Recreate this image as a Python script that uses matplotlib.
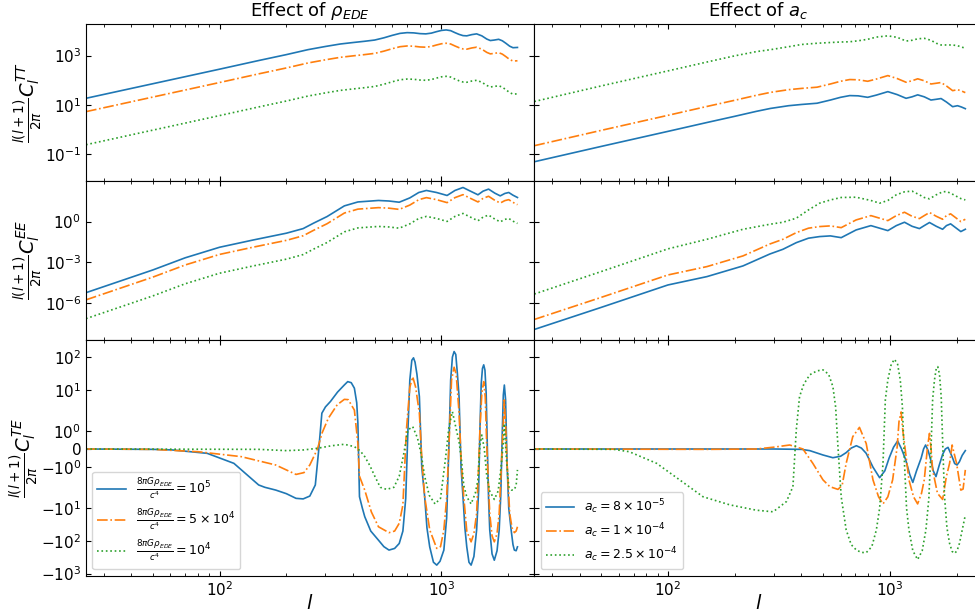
import numpy as np
import matplotlib
matplotlib.use("Agg")
import matplotlib.pyplot as plt
from matplotlib.ticker import NullLocator, FixedLocator

# ---------------- data ----------------
# TT, effect of rho_EDE  (log10 of l(l+1)C_l/2pi)
ell_tt_rho = [25, 50, 100, 150, 200, 250, 300, 350, 400, 450, 500, 550, 600, 650, 700, 750,
              800, 850, 900, 950, 1000, 1050, 1100, 1150, 1200, 1250, 1300, 1370, 1440, 1520,
              1600, 1660, 1730, 1810, 1880, 1950, 2030, 2100, 2200]
tt_rho_1e5 = [1.27, 1.86, 2.45, 2.80, 3.04, 3.24, 3.37, 3.47, 3.53, 3.58, 3.63, 3.72, 3.82, 3.90,
              3.93, 3.92, 3.89, 3.88, 3.91, 3.97, 4.02, 4.04, 4.01, 3.93, 3.86, 3.81, 3.80, 3.85,
              3.88, 3.80, 3.67, 3.61, 3.63, 3.66, 3.60, 3.50, 3.38, 3.32, 3.33]
tt_rho_5e4 = [0.73, 1.32, 1.91, 2.26, 2.50, 2.70, 2.83, 2.93, 2.99, 3.04, 3.09, 3.18, 3.28, 3.36,
              3.39, 3.38, 3.35, 3.34, 3.37, 3.43, 3.48, 3.50, 3.47, 3.39, 3.32, 3.27, 3.26, 3.31,
              3.34, 3.26, 3.13, 3.07, 3.09, 3.12, 3.06, 2.96, 2.84, 2.78, 2.79]
tt_rho_1e4 = [-0.61, -0.02, 0.57, 0.92, 1.16, 1.36, 1.49, 1.59, 1.65, 1.70, 1.75, 1.84, 1.94, 2.02,
              2.05, 2.04, 2.01, 2.00, 2.03, 2.09, 2.14, 2.16, 2.13, 2.05, 1.98, 1.93, 1.92, 1.97,
              2.00, 1.92, 1.79, 1.73, 1.75, 1.78, 1.72, 1.62, 1.50, 1.44, 1.45]

# TT, effect of a_c
ell_tt_ac = [25, 50, 100, 150, 200, 250, 290, 350, 400, 470, 540, 600, 660, 720, 795, 870, 980,
             1080, 1184, 1260, 1336, 1430, 1533, 1620, 1703, 1800, 1920, 2020, 2100, 2190]
tt_ac_8e5 = [-1.30, -0.68, -0.07, 0.29, 0.54, 0.74, 0.86, 0.97, 1.02, 1.07, 1.20, 1.31, 1.38, 1.37,
             1.31, 1.40, 1.54, 1.42, 1.27, 1.33, 1.41, 1.33, 1.20, 1.23, 1.26, 1.12, 0.93, 0.97,
             0.92, 0.85]
tt_ac_1e4 = [-0.65, -0.03, 0.58, 0.94, 1.19, 1.39, 1.51, 1.62, 1.67, 1.72, 1.85, 1.96, 2.03, 2.02,
             1.96, 2.05, 2.19, 2.07, 1.92, 1.98, 2.06, 1.98, 1.85, 1.88, 1.91, 1.77, 1.58, 1.62,
             1.57, 1.50]
tt_ac_25e4 = [1.14, 1.77, 2.38, 2.74, 2.99, 3.16, 3.24, 3.36, 3.45, 3.50, 3.53, 3.55, 3.56, 3.60,
              3.66, 3.75, 3.80, 3.74, 3.59, 3.62, 3.68, 3.70, 3.62, 3.50, 3.43, 3.43, 3.43, 3.40,
              3.35, 3.30]

# EE, effect of rho_EDE (log10)
ell_ee_rho = [25, 50, 70, 100, 142, 200, 238, 265, 305, 365, 420, 520, 580, 645, 720, 790, 855,
              950, 1060, 1150, 1250, 1350, 1460, 1540, 1630, 1740, 1840, 1930, 2010, 2100, 2200]
ee_rho_1e5 = [-5.26, -3.58, -2.68, -1.90, -1.36, -0.86, -0.52, -0.12, 0.37, 1.16, 1.45, 1.56, 1.52,
              1.43, 1.75, 2.15, 2.30, 2.15, 1.93, 2.30, 2.52, 2.25, 1.98, 2.25, 2.40, 2.10, 1.90,
              2.08, 2.15, 1.95, 1.78]
ee_rho_5e4 = [-5.79, -4.11, -3.21, -2.43, -1.89, -1.39, -1.05, -0.65, -0.16, 0.63, 0.92, 1.03, 0.99,
              0.90, 1.22, 1.62, 1.77, 1.62, 1.40, 1.77, 1.99, 1.72, 1.45, 1.72, 1.87, 1.57, 1.37,
              1.55, 1.62, 1.42, 1.25]
ee_rho_1e4 = [-7.18, -5.50, -4.60, -3.82, -3.28, -2.78, -2.44, -2.04, -1.55, -0.76, -0.47, -0.36,
              -0.40, -0.49, -0.17, 0.23, 0.38, 0.23, 0.01, 0.38, 0.60, 0.33, 0.06, 0.33, 0.48,
              0.18, -0.02, 0.16, 0.23, 0.03, -0.14]

# EE, effect of a_c (log10)
ell_ee_ac = [25, 50, 100, 150, 218, 288, 330, 379, 430, 483, 540, 604, 705, 822, 900, 980, 1070,
             1165, 1260, 1360, 1430, 1510, 1620, 1730, 1800, 1880, 1980, 2090, 2190]
ee_ac_8e5 = [-7.98, -6.35, -4.69, -4.07, -3.28, -2.40, -2.05, -1.56, -1.23, -1.11, -1.06, -1.19,
             -0.62, -0.30, -0.49, -0.67, -0.30, -0.05, -0.35, -0.52, -0.30, -0.07, -0.35, -0.57,
             -0.30, -0.17, -0.45, -0.74, -0.57]
ee_ac_1e4 = [-7.24, -5.61, -3.95, -3.33, -2.54, -1.66, -1.31, -0.82, -0.49, -0.37, -0.32, -0.45,
             0.12, 0.44, 0.25, 0.07, 0.44, 0.69, 0.39, 0.22, 0.44, 0.67, 0.39, 0.17, 0.44, 0.57,
             0.29, 0.00, 0.17]
ee_ac_25e4 = [-5.36, -3.70, -2.02, -1.31, -0.57, -0.20, -0.05, 0.25, 0.86, 1.36, 1.60, 1.78, 1.80,
              1.56, 1.36, 1.56, 1.98, 2.20, 2.25, 1.98, 1.78, 1.68, 1.98, 2.20, 2.22, 2.10, 1.90,
              1.70, 1.60]

# TE, effect of rho_EDE (signed values)
ell_te_rho_1e5 = [25, 50, 61, 88, 116, 150, 160, 179, 200, 221, 238, 255, 270, 280, 289, 300, 316,
                  340, 365, 378, 392, 405, 415, 420, 427, 440, 451, 480, 520, 550, 580, 615, 645,
                  670, 690, 706, 720, 735, 748, 760, 775, 795, 815, 840, 860, 885, 920, 952, 985,
                  1025, 1055, 1080, 1100, 1120, 1140, 1160, 1180, 1200, 1225, 1250, 1275, 1300,
                  1330, 1360, 1400, 1440, 1470, 1490, 1510, 1530, 1550, 1570, 1590, 1610, 1630,
                  1650, 1690, 1730, 1780, 1820, 1850, 1880, 1900, 1920, 1945, 1975, 2010, 2060,
                  2100, 2130, 2170, 2200]
te_rho_1e5 = [0, -0.02, -0.05, -0.24, -0.79, -1.98, -2.3, -2.79, -3.6, -5.0, -5.2, -4.26, -1.98, 0,
              1.97, 3.0, 4.4, 8.5, 14.1, 17.8, 16.5, 11.2, 4.0, 1.42, -4.45, -10, -18.2, -50, -95,
              -150, -191, -170, -120, -50, -5, 1.05, 20, 80, 95, 70, 30, 6.2, -1, -4.5, -40, -152,
              -450, -550, -420, -191, -20, 0.13, 20, 100, 148, 120, 30, 6.2, -1, -4.5, -40, -152,
              -450, -550, -300, -46, -3, 1.05, 15, 45, 58, 40, 8, 0, -5, -46, -250, -390, -200,
              -46, -4, 1.0, 7, 14, 5, -0.79, -10, -46, -130, -191, -200, -152]
ell_te_rho_5e4 = [25, 50, 80, 125, 179, 221, 240, 255, 276, 290, 309, 339, 365, 380, 405, 420, 427,
                  451, 483, 520, 580, 615, 645, 670, 695, 720, 742, 765, 795, 815, 840, 885, 952,
                  990, 1025, 1055, 1080, 1110, 1140, 1165, 1200, 1225, 1260, 1300, 1360, 1400,
                  1440, 1470, 1490, 1520, 1550, 1575, 1600, 1650, 1690, 1730, 1780, 1820, 1860,
                  1900, 1920, 1950, 1975, 2030, 2080, 2130, 2170, 2200]
te_rho_5e4 = [0, -0.02, -0.15, -0.42, -0.88, -1.40, -1.3, -0.88, 0, 0.9, 1.69, 3.5, 5.1, 5.0, 2.4,
              0.3, -1.5, -2.8, -13, -37, -56, -50, -29, -8, 1.05, 12, 25, 12, 1.96, -0.5, -4.5,
              -46, -170, -150, -46, -5, 0.13, 20, 49, 30, 2.0, -0.5, -4.5, -50, -107, -60, -14.6,
              -1, 1.05, 8, 17.8, 6, 0.13, -14.6, -70, -107, -60, -14.6, -1, 1.5, 4.9, 1, -0.79,
              -14.6, -40, -56, -50, -37]
ell_te_rho_1e4 = [25, 150, 200, 240, 276, 320, 365, 405, 430, 451, 475, 502, 530, 566, 610, 645,
                  675, 706, 742, 780, 810, 840, 880, 935, 990, 1045, 1080, 1120, 1160, 1200, 1230,
                  1260, 1300, 1360, 1420, 1460, 1490, 1520, 1560, 1600, 1650, 1730, 1800, 1860,
                  1900, 1920, 1960, 2010, 2070, 2130, 2170, 2200]
te_rho_1e4 = [0, -0.02, -0.09, -0.05, 0.04, 0.18, 0.26, 0.13, -0.1, -0.42, -0.9, -1.53, -2.3, -2.66,
              -2.3, -1.5, -0.3, 1.05, 1.23, 0.6, -0.3, -1.5, -4.0, -7.4, -5, -0.42, 1.2, 2.14, 1.2,
              0.4, -0.6, -2.0, -4.5, -7.4, -3.5, -1.7, 0.2, 0.77, 0.0, -1.5, -3.0, -5.4, -3.0,
              -0.9, 0.4, 1.4, -0.5, -2.2, -2.8, -2.7, -2.0, -1.15]

# TE, effect of a_c (signed values)
ell_te_ac_8e5 = [25, 300, 400, 436, 500, 554, 600, 636, 670, 707, 745, 783, 840, 900, 950, 993,
                 1040, 1085, 1130, 1180, 1230, 1270, 1320, 1385, 1420, 1450, 1490, 1530, 1570,
                 1615, 1670, 1730, 1780, 1830, 1875, 1920, 1960, 2010, 2060, 2120, 2190]
te_ac_8e5 = [0, 0.0, -0.02, -0.09, -0.33, -0.48, -0.4, -0.2, 0.05, 0.18, 0.05, -0.24, -1.0, -1.58,
             -1.2, -0.5, 0.1, 0.44, 0.0, -0.6, -1.4, -1.84, -1.2, -0.5, 0.0, 0.22, -0.1, -0.6,
             -1.2, -1.52, -0.9, -0.3, 0.0, 0.09, -0.2, -0.5, -0.8, -0.88, -0.7, -0.35, -0.09]
ell_te_ac_1e4 = [25, 150, 250, 300, 354, 406, 450, 500, 537, 584, 610, 636, 681, 730, 783, 840,
                 890, 932, 980, 1030, 1080, 1100, 1125, 1145, 1165, 1220, 1280, 1335, 1390, 1430,
                 1480, 1510, 1535, 1560, 1640, 1730, 1800, 1860, 1910, 1955, 2000, 2090, 2140,
                 2190]
te_ac_1e4 = [0, -0.02, 0.0, 0.1, 0.22, 0.0, -0.79, -1.7, -2.2, -2.66, -2.0, -0.79, 0.68, 1.19,
             0.3, -1.7, -4.5, -7.4, -4.5, -1.7, 0.13, 1.5, 2.1, 1.0, 0.3, -1.7, -4.5, -7.4, -3.5,
             -1.7, 0.13, 0.86, 0.0, -1.15, -3.5, -5.4, -1.5, -0.79, 0.22, -0.3, -0.79, -2.8, -2.6,
             -1.15]
ell_te_ac_25e4 = [25, 57, 67, 89, 113, 144, 190, 250, 298, 342, 366, 379, 392, 410, 436, 470, 500,
                  530, 554, 570, 584, 604, 636, 670, 707, 745, 783, 830, 870, 900, 932, 955, 980,
                  1015, 1050, 1085, 1115, 1140, 1165, 1190, 1220, 1270, 1335, 1400, 1455, 1500,
                  1535, 1560, 1590, 1620, 1645, 1675, 1705, 1735, 1765, 1810, 1860, 1910, 1960,
                  2010, 2060, 2130, 2190]
te_ac_25e4 = [0, -0.02, -0.15, -0.79, -1.7, -4.47, -7.9, -11.5, -12.9, -6.3, -2.2, 1.05, 6.2, 15,
              28.8, 38, 40.7, 30, 12.6, 3, 0.13, -4.47, -46, -130, -191, -225, -229, -150, -46,
              -10, -0.8, 5, 20, 60, 86, 60, 20, 3, -0.8, -10, -46, -200, -372, -200, -46, -5,
              0.13, 5, 20, 45, 51, 30, 6.2, 0, -4.47, -40, -120, -210, -240, -200, -120, -40,
              -16.2]

labels_rho = [r'$\frac{8\pi G\rho_{EDE}}{c^4}=10^5$',
              r'$\frac{8\pi G\rho_{EDE}}{c^4}=5\times10^4$',
              r'$\frac{8\pi G\rho_{EDE}}{c^4}=10^4$']
labels_ac = [r'$a_c=8\times10^{-5}$', r'$a_c=1\times10^{-4}$', r'$a_c=2.5\times10^{-4}$']
titles = [r'Effect of $\rho_{EDE}$', r'Effect of $a_c$']
ylabels = [r'$\frac{l(l+1)}{2\pi}C_l^{TT}$', r'$\frac{l(l+1)}{2\pi}C_l^{EE}$',
           r'$\frac{l(l+1)}{2\pi}C_l^{TE}$']

# ---------------- figure ----------------
W, H = 975, 615
fig = plt.figure(figsize=(W / 100, H / 100), dpi=100)

def rect(x0, x1, y0, y1):
    return [x0 / W, 1 - y1 / H, (x1 - x0) / W, (y1 - y0) / H]

cols = [(86, 534.3), (534.3, 982.6)]
rows = [(24, 181), (181, 339.6), (339.6, 575.7)]
colors = ['#1f77b4', '#ff7f0e', '#2ca02c']
styles = ['-', '-.', ':']
LW = 1.2

axes = [[None, None], [None, None], [None, None]]
for r, (y0, y1) in enumerate(rows):
    for c, (x0, x1) in enumerate(cols):
        ax = fig.add_axes(rect(x0, x1, y0, y1))
        axes[r][c] = ax

tt = [(ell_tt_rho, [tt_rho_1e5, tt_rho_5e4, tt_rho_1e4]),
      (ell_tt_ac, [tt_ac_8e5, tt_ac_1e4, tt_ac_25e4])]
ee = [(ell_ee_rho, [ee_rho_1e5, ee_rho_5e4, ee_rho_1e4]),
      (ell_ee_ac, [ee_ac_8e5, ee_ac_1e4, ee_ac_25e4])]
te = [([ell_te_rho_1e5, ell_te_rho_5e4, ell_te_rho_1e4], [te_rho_1e5, te_rho_5e4, te_rho_1e4]),
      ([ell_te_ac_8e5, ell_te_ac_1e4, ell_te_ac_25e4], [te_ac_8e5, te_ac_1e4, te_ac_25e4])]
leg_labels = [labels_rho, labels_ac]

for c in range(2):
    ax = axes[0][c]
    ell, series = tt[c]
    for i, s in enumerate(series):
        ax.plot(ell, 10 ** np.array(s), color=colors[i], ls=styles[i], lw=LW)
    ax.set_yscale('log')
    ax.set_ylim(10 ** -2.08, 10 ** 4.28)
    ax.yaxis.set_major_locator(FixedLocator([1e-1, 1e1, 1e3]))
    ax.yaxis.set_minor_locator(NullLocator())
    ax.set_title(titles[c], fontsize=13)

    ax = axes[1][c]
    ell, series = ee[c]
    for i, s in enumerate(series):
        ax.plot(ell, 10 ** np.array(s), color=colors[i], ls=styles[i], lw=LW)
    ax.set_yscale('log')
    ax.set_ylim(10 ** -8.73, 10 ** 3.0)
    ax.yaxis.set_major_locator(FixedLocator([1e-6, 1e-3, 1e0]))
    ax.yaxis.set_minor_locator(NullLocator())

    ax = axes[2][c]
    ells, series = te[c]
    for i, (e, s) in enumerate(zip(ells, series)):
        ax.plot(e, s, color=colors[i], ls=styles[i], lw=LW, label=leg_labels[c][i])
    ax.set_yscale('symlog', linthresh=2, linscale=1)
    ax.set_ylim(-1160, 343)
    ax.yaxis.set_major_locator(FixedLocator([-1e3, -1e2, -1e1, -1, 0, 1, 1e1, 1e2]))
    ax.yaxis.set_minor_locator(NullLocator())
    ax.legend(loc='lower left', fontsize=9, handlelength=2.3, labelspacing=0.45)
    ax.set_xlabel(r'$l$', fontsize=14, labelpad=-4)

for r in range(3):
    for c in range(2):
        ax = axes[r][c]
        ax.set_xscale('log')
        ax.set_xlim(25, 2620)
        ax.tick_params(which='both', direction='in', top=True, right=True, labelsize=11)
        if r < 2:
            ax.tick_params(labelbottom=False)
        if c == 1:
            ax.tick_params(labelleft=False)
        else:
            ax.set_ylabel(ylabels[r], fontsize=14, labelpad=0)

fig.savefig('out.png', dpi=100)
